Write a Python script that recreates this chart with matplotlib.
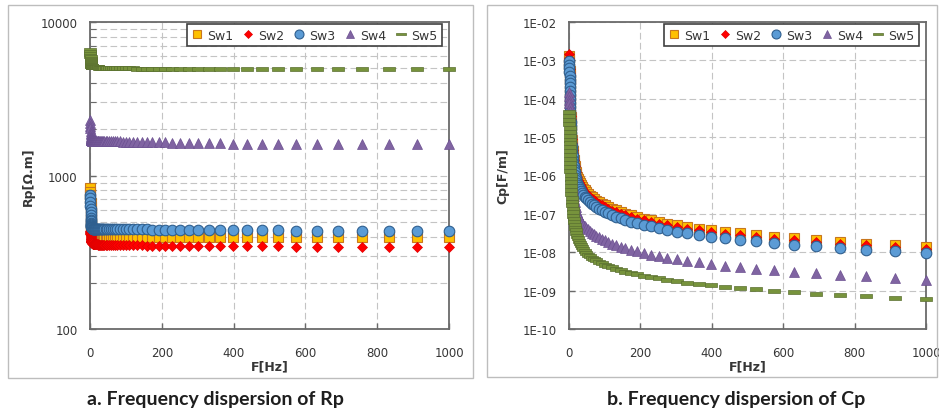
import matplotlib
matplotlib.use("Agg")
import matplotlib.pyplot as plt
import matplotlib.patches as mpatches
from matplotlib.path import Path
from matplotlib.ticker import FixedLocator, FixedFormatter, NullFormatter, NullLocator, LogLocator

# ---------------- data ----------------
freq_hz = [1.00, 1.10, 1.20, 1.32, 1.45, 1.58, 1.74, 1.91, 2.09, 2.29, 2.51, 2.75, 3.02, 3.31, 3.63,
           3.98, 4.37, 4.79, 5.25, 5.75, 6.31, 6.92, 7.59, 8.32, 9.12,
           10.0, 11.0, 12.0, 13.2, 14.5, 15.8, 17.4, 19.1, 20.9, 22.9, 25.1, 27.5, 30.2, 33.1, 36.3,
           39.8, 43.7, 47.9, 52.5, 57.5, 63.1, 69.2, 75.9, 83.2, 91.2,
           100, 110, 120, 132, 145, 158, 174, 191, 209, 229, 251, 275, 302, 331, 363,
           398, 437, 479, 525, 575, 631, 692, 759, 832, 912, 1000]

series_names = ["Sw1", "Sw2", "Sw3", "Sw4", "Sw5"]

# Rp [Ohm.m]
rp_sw1 = [830, 785, 742, 700, 660, 622, 588, 558, 533, 512, 494, 479, 466, 456, 447, 440, 434, 429, 425, 421,
          418, 416, 414, 412, 410,
          409, 408, 407, 406, 405, 405, 404, 404, 403, 403, 403, 402, 402, 402, 401, 401, 401, 401, 400, 400,
          400, 400, 400, 400, 400,
          400, 400, 400, 400, 400, 400, 400, 399, 399, 399, 399, 399, 399, 399, 398, 398, 398, 398, 398, 398,
          398, 397, 397, 397, 397, 397]
rp_sw2 = [435, 428, 421, 414, 408, 402, 397, 392, 388, 384, 380, 377, 374, 372, 370, 368, 366, 365, 364, 363,
          362, 361, 360, 360, 359,
          359, 358, 358, 357, 357, 357, 356, 356, 356, 355, 355, 355, 354, 354, 354, 354, 353, 353, 353, 353,
          352, 352, 352, 352, 351,
          351, 351, 350, 350, 350, 349, 349, 349, 348, 348, 348, 347, 347, 347, 346, 346, 345, 345, 345, 344,
          344, 343, 343, 342, 342, 342]
rp_sw3 = [750, 710, 672, 636, 604, 576, 552, 532, 516, 503, 492, 483, 476, 470, 466, 462, 459, 457, 455, 454,
          453, 452, 451, 451, 450,
          450, 450, 450, 449, 449, 449, 449, 448, 448, 448, 448, 448, 447, 447, 447, 447, 447, 446, 446, 446,
          446, 446, 446, 446, 446,
          446, 446, 445, 445, 445, 445, 444, 444, 444, 443, 443, 442, 442, 441, 441, 440, 440, 439, 439, 438,
          438, 437, 437, 436, 436, 435]
rp_sw4 = [2300, 2200, 2110, 2030, 1960, 1900, 1850, 1810, 1780, 1760, 1745, 1733, 1723, 1715, 1709, 1704, 1700,
          1697, 1694, 1692, 1690, 1688, 1687, 1686, 1685,
          1684, 1683, 1682, 1681, 1680, 1680, 1679, 1678, 1677, 1677, 1676, 1675, 1675, 1674, 1673, 1673, 1672,
          1671, 1670, 1670, 1669, 1668, 1667, 1666, 1665,
          1663, 1661, 1659, 1657, 1655, 1652, 1649, 1646, 1643, 1640, 1636, 1632, 1628, 1624, 1620, 1616, 1612,
          1609, 1606, 1604, 1602, 1601, 1600, 1600, 1600, 1600]
rp_sw5 = [6600, 6400, 6220, 6050, 5900, 5770, 5650, 5550, 5460, 5390, 5330, 5280, 5240, 5210, 5185, 5165, 5150,
          5138, 5128, 5120, 5113, 5107, 5102, 5098, 5094,
          5090, 5086, 5082, 5078, 5074, 5070, 5066, 5062, 5058, 5054, 5050, 5046, 5042, 5038, 5034, 5030, 5026,
          5022, 5018, 5014, 5010, 5006, 5002, 4998, 4994,
          4990, 4985, 4980, 4975, 4970, 4965, 4960, 4955, 4950, 4945, 4940, 4935, 4930, 4928, 4926, 4924, 4922,
          4920, 4918, 4916, 4914, 4912, 4910, 4908, 4906, 4905]

# Cp [F/m]
cp_sw1 = [1.3e-3, 1.03e-3, 8.2e-4, 6.5e-4, 5.2e-4, 4.1e-4, 3.3e-4, 2.6e-4, 2.1e-4, 1.6e-4,
          1.3e-4, 1.03e-4, 8.2e-5, 6.5e-5, 5.2e-5, 4.1e-5, 3.3e-5, 2.6e-5, 2.1e-5, 1.6e-5,
          1.3e-5, 1.03e-5, 8.3e-6, 6.6e-6, 5.4e-6, 4.4e-6, 3.6e-6, 3.0e-6, 2.5e-6, 2.07e-6,
          1.74e-6, 1.48e-6, 1.26e-6, 1.08e-6, 9.4e-7, 8.2e-7, 7.1e-7, 6.3e-7, 5.6e-7, 5.0e-7,
          4.5e-7, 4.1e-7, 3.7e-7, 3.3e-7, 3.0e-7, 2.7e-7, 2.5e-7, 2.2e-7, 2.0e-7, 1.84e-7,
          1.66e-7, 1.51e-7, 1.36e-7, 1.23e-7, 1.12e-7, 1.01e-7, 9.2e-8, 8.3e-8, 7.5e-8, 6.8e-8,
          6.2e-8, 5.6e-8, 5.0e-8, 4.6e-8, 4.1e-8, 3.7e-8, 3.4e-8, 3.1e-8, 2.8e-8, 2.5e-8,
          2.3e-8, 2.1e-8, 1.87e-8, 1.69e-8, 1.53e-8, 1.38e-8]
cp_sw2 = [1.45e-3, 1.15e-3, 9.1e-4, 7.3e-4, 5.8e-4, 4.6e-4, 3.6e-4, 2.9e-4, 2.3e-4, 1.8e-4,
          1.45e-4, 1.15e-4, 9.1e-5, 7.3e-5, 5.8e-5, 4.6e-5, 3.6e-5, 2.9e-5, 2.3e-5, 1.8e-5,
          1.42e-5, 1.12e-5, 9.0e-6, 7.1e-6, 5.8e-6, 4.7e-6, 3.8e-6, 3.1e-6, 2.6e-6, 2.1e-6,
          1.75e-6, 1.47e-6, 1.24e-6, 1.05e-6, 9.0e-7, 7.8e-7, 6.7e-7, 5.9e-7, 5.2e-7, 4.6e-7,
          4.05e-7, 3.7e-7, 3.3e-7, 3.0e-7, 2.7e-7, 2.4e-7, 2.25e-7, 2.0e-7, 1.8e-7, 1.66e-7,
          1.5e-7, 1.36e-7, 1.22e-7, 1.11e-7, 1.01e-7, 9.1e-8, 8.3e-8, 7.5e-8, 6.8e-8, 6.1e-8,
          5.6e-8, 5.0e-8, 4.5e-8, 4.1e-8, 3.7e-8, 3.3e-8, 3.06e-8, 2.8e-8, 2.5e-8, 2.25e-8,
          2.07e-8, 1.9e-8, 1.68e-8, 1.52e-8, 1.38e-8, 1.24e-8]
cp_sw3 = [9.9e-4, 7.8e-4, 6.2e-4, 4.9e-4, 4.0e-4, 3.1e-4, 2.5e-4, 2.0e-4, 1.6e-4, 1.25e-4,
          9.9e-5, 7.8e-5, 6.2e-5, 4.9e-5, 4.0e-5, 3.1e-5, 2.5e-5, 2.0e-5, 1.6e-5, 1.25e-5,
          9.9e-6, 7.4e-6, 6.0e-6, 4.75e-6, 3.9e-6, 3.2e-6, 2.6e-6, 2.16e-6, 1.8e-6, 1.49e-6,
          1.2e-6, 1.02e-6, 8.7e-7, 7.5e-7, 6.5e-7, 5.7e-7, 4.9e-7, 4.35e-7, 3.9e-7, 3.45e-7,
          3.1e-7, 2.8e-7, 2.55e-7, 2.3e-7, 2.07e-7, 1.86e-7, 1.72e-7, 1.52e-7, 1.38e-7, 1.27e-7,
          1.15e-7, 1.04e-7, 9.4e-8, 8.5e-8, 7.7e-8, 7.0e-8, 6.3e-8, 5.7e-8, 5.2e-8, 4.7e-8,
          4.3e-8, 3.9e-8, 3.45e-8, 3.2e-8, 2.8e-8, 2.55e-8, 2.35e-8, 2.14e-8, 1.93e-8, 1.72e-8,
          1.59e-8, 1.45e-8, 1.29e-8, 1.17e-8, 1.06e-8, 9.5e-9]
cp_sw4 = [1.51e-4, 1.2e-4, 9.5e-5, 7.6e-5, 6.05e-5, 4.8e-5, 3.8e-5, 3.0e-5, 2.4e-5, 1.9e-5,
          1.51e-5, 1.2e-5, 9.5e-6, 7.6e-6, 6.05e-6, 4.8e-6, 3.8e-6, 3.0e-6, 2.4e-6, 1.9e-6,
          1.51e-6, 1.2e-6, 9.7e-7, 7.7e-7, 6.3e-7, 5.1e-7, 4.2e-7, 3.5e-7, 2.9e-7, 2.4e-7,
          2.0e-7, 1.72e-7, 1.47e-7, 1.26e-7, 1.09e-7, 9.5e-8, 8.3e-8, 7.3e-8, 6.5e-8, 5.8e-8,
          5.2e-8, 4.75e-8, 4.3e-8, 3.95e-8, 3.6e-8, 3.25e-8, 2.97e-8, 2.7e-8, 2.46e-8, 2.24e-8,
          2.04e-8, 1.85e-8, 1.69e-8, 1.54e-8, 1.4e-8, 1.27e-8, 1.16e-8, 1.05e-8, 9.6e-9, 8.7e-9,
          7.9e-9, 7.2e-9, 6.6e-9, 6.0e-9, 5.45e-9, 4.96e-9, 4.5e-9, 4.1e-9, 3.75e-9, 3.4e-9,
          3.1e-9, 2.83e-9, 2.57e-9, 2.34e-9, 2.13e-9, 1.94e-9]
cp_sw5 = [4.47e-5, 3.53e-5, 2.79e-5, 2.21e-5, 1.75e-5, 1.38e-5, 1.09e-5, 8.65e-6, 6.85e-6, 5.42e-6,
          4.29e-6, 3.39e-6, 2.68e-6, 2.12e-6, 1.68e-6, 1.33e-6, 1.05e-6, 8.3e-7, 6.6e-7, 5.2e-7,
          4.1e-7, 3.25e-7, 2.59e-7, 2.07e-7, 1.67e-7, 1.35e-7, 1.1e-7, 9.0e-8, 7.5e-8, 6.2e-8,
          5.2e-8, 4.35e-8, 3.7e-8, 3.13e-8, 2.68e-8, 2.31e-8, 2.0e-8, 1.74e-8, 1.53e-8, 1.35e-8,
          1.2e-8, 1.07e-8, 9.6e-9, 8.7e-9, 7.9e-9, 7.2e-9, 6.64e-9, 6.1e-9, 5.62e-9, 5.18e-9,
          4.76e-9, 4.39e-9, 4.04e-9, 3.72e-9, 3.42e-9, 3.15e-9, 2.9e-9, 2.67e-9, 2.45e-9, 2.26e-9,
          2.08e-9, 1.91e-9, 1.76e-9, 1.62e-9, 1.49e-9, 1.37e-9, 1.26e-9, 1.16e-9, 1.07e-9, 9.9e-10,
          9.1e-10, 8.4e-10, 7.7e-10, 7.1e-10, 6.5e-10, 6.0e-10]

x_ticks = [0, 200, 400, 600, 800, 1000]
x_ticklabels = ["0", "200", "400", "600", "800", "1000"]
rp_yticks = [100, 1000, 10000]
rp_yticklabels = ["100", "1000", "10000"]
cp_yticks = [1e-10, 1e-9, 1e-8, 1e-7, 1e-6, 1e-5, 1e-4, 1e-3, 1e-2]
cp_yticklabels = ["1E-10", "1E-09", "1E-08", "1E-07", "1E-06", "1E-05", "1E-04", "1E-03", "1E-02"]
x_label = "F[Hz]"
rp_label = "Rp[\u03a9.m]"
cp_label = "Cp[F/m]"
captions = ["a. Frequency dispersion of Rp", "b. Frequency dispersion of Cp"]

# ---------------- style ----------------
W, H = 939, 414
fig = plt.figure(figsize=(W / 100, H / 100), dpi=100)
fig.patch.set_facecolor("white")

dash_marker = Path([(-1, -0.3), (1, -0.3), (1, 0.3), (-1, 0.3), (-1, -0.3)],
                   [Path.MOVETO, Path.LINETO, Path.LINETO, Path.LINETO, Path.CLOSEPOLY])
styles = [
    dict(marker="s", ms=6.6, mfc="#FFC000", mec="#C8761E", mew=0.8),
    dict(marker="D", ms=4.8, mfc="#FF0000", mec="#E00000", mew=0.5),
    dict(marker="o", ms=7.6, mfc="#5B9BD5", mec="#2F5F8F", mew=0.8),
    dict(marker="^", ms=7.6, mfc="#8064A2", mec="#6B5090", mew=0.5),
    dict(marker=dash_marker, ms=8.0, mfc="#77933C", mec="#5A7030", mew=0.5),
]

spine_col = "#6A6A6A"
grid_col = "#C4C4C4"
text_col = "#363636"


def px_rect(x0, y0, x1, y1):
    return [x0 / W, 1 - y1 / H, (x1 - x0) / W, (y1 - y0) / H]


# panel borders
for (x0, y0, x1, y1) in [(8, 6, 473, 379), (487, 6, 937, 378)]:
    fig.patches.append(mpatches.Rectangle((x0 / W, 1 - y1 / H), (x1 - x0) / W, (y1 - y0) / H,
                                          transform=fig.transFigure, fill=False,
                                          edgecolor="#BDBDBD", lw=1.0))

ax1 = fig.add_axes(px_rect(90, 23, 449, 330))
ax2 = fig.add_axes(px_rect(569, 23, 926, 330))

rp_series = [rp_sw1, rp_sw2, rp_sw3, rp_sw4, rp_sw5]
cp_series = [cp_sw1, cp_sw2, cp_sw3, cp_sw4, cp_sw5]

for ax, data, yticks, ylabels, ylab, ylim, minor, lab_x in [
        (ax1, rp_series, rp_yticks, rp_yticklabels, rp_label, (100, 10000), True, -0.173),
        (ax2, cp_series, cp_yticks, cp_yticklabels, cp_label, (1e-10, 1e-2), False, -0.185)]:
    ax.set_yscale("log")
    ax.set_xlim(0, 1000)
    ax.set_ylim(*ylim)
    for i, (name, vals) in enumerate(zip(series_names, data)):
        ax.plot(freq_hz, vals, linestyle="none", label=name, clip_on=False,
                zorder=3 + i, **styles[i])
    ax.xaxis.set_major_locator(FixedLocator(x_ticks))
    ax.xaxis.set_major_formatter(FixedFormatter(x_ticklabels))
    ax.xaxis.set_minor_locator(NullLocator())
    ax.yaxis.set_major_locator(FixedLocator(yticks))
    ax.yaxis.set_major_formatter(FixedFormatter(ylabels))
    if minor:
        ax.yaxis.set_minor_locator(LogLocator(base=10, subs=[2, 3, 4, 5, 6, 7, 8, 9]))
        ax.yaxis.set_minor_formatter(NullFormatter())
        ax.grid(True, which="minor", axis="y", color=grid_col, lw=0.8, linestyle=(0, (6, 3)))
    else:
        ax.yaxis.set_minor_locator(NullLocator())
    ax.grid(True, which="major", axis="both", color=grid_col, lw=0.8, linestyle=(0, (6, 3)))
    ax.set_axisbelow(True)
    for s in ax.spines.values():
        s.set_color(spine_col)
        s.set_linewidth(1.3)
    ax.tick_params(axis="both", which="both", direction="in", color=spine_col,
                   labelcolor=text_col, labelsize=8.5)
    ax.tick_params(axis="both", which="major", length=4, width=1)
    ax.tick_params(axis="y", which="minor", length=4, width=0.8)
    ax.tick_params(axis="x", pad=12)
    ax.tick_params(axis="y", pad=9)
    ax.set_xlabel(x_label, fontsize=9, fontweight="bold", color=text_col)
    ax.xaxis.label.set_va("center")
    ax.xaxis.set_label_coords(0.5, -0.12)
    ax.set_ylabel(ylab, fontsize=9, fontweight="bold", color=text_col)
    ax.yaxis.label.set_va("center")
    ax.yaxis.set_label_coords(lab_x, 0.5)
    leg = ax.legend(loc="upper right", bbox_to_anchor=(0.98, 0.993), borderaxespad=0,
                    ncol=5, fontsize=9, handlelength=0.8, handletextpad=0.4,
                    columnspacing=0.8, borderpad=0.35, markerscale=0.85,
                    frameon=True, fancybox=False, framealpha=1, edgecolor="#404040")
    leg.get_frame().set_linewidth(1.2)
    leg.set_zorder(20)
    for t in leg.get_texts():
        t.set_color(text_col)

for cx, txt in zip([215, 736], captions):
    fig.text(cx / W, 1 - 400 / H, txt, ha="center", va="center", fontsize=14,
             fontweight="bold", family="Lato", color="#1E1E1E")

fig.savefig("out.png", dpi=100, facecolor="white")
